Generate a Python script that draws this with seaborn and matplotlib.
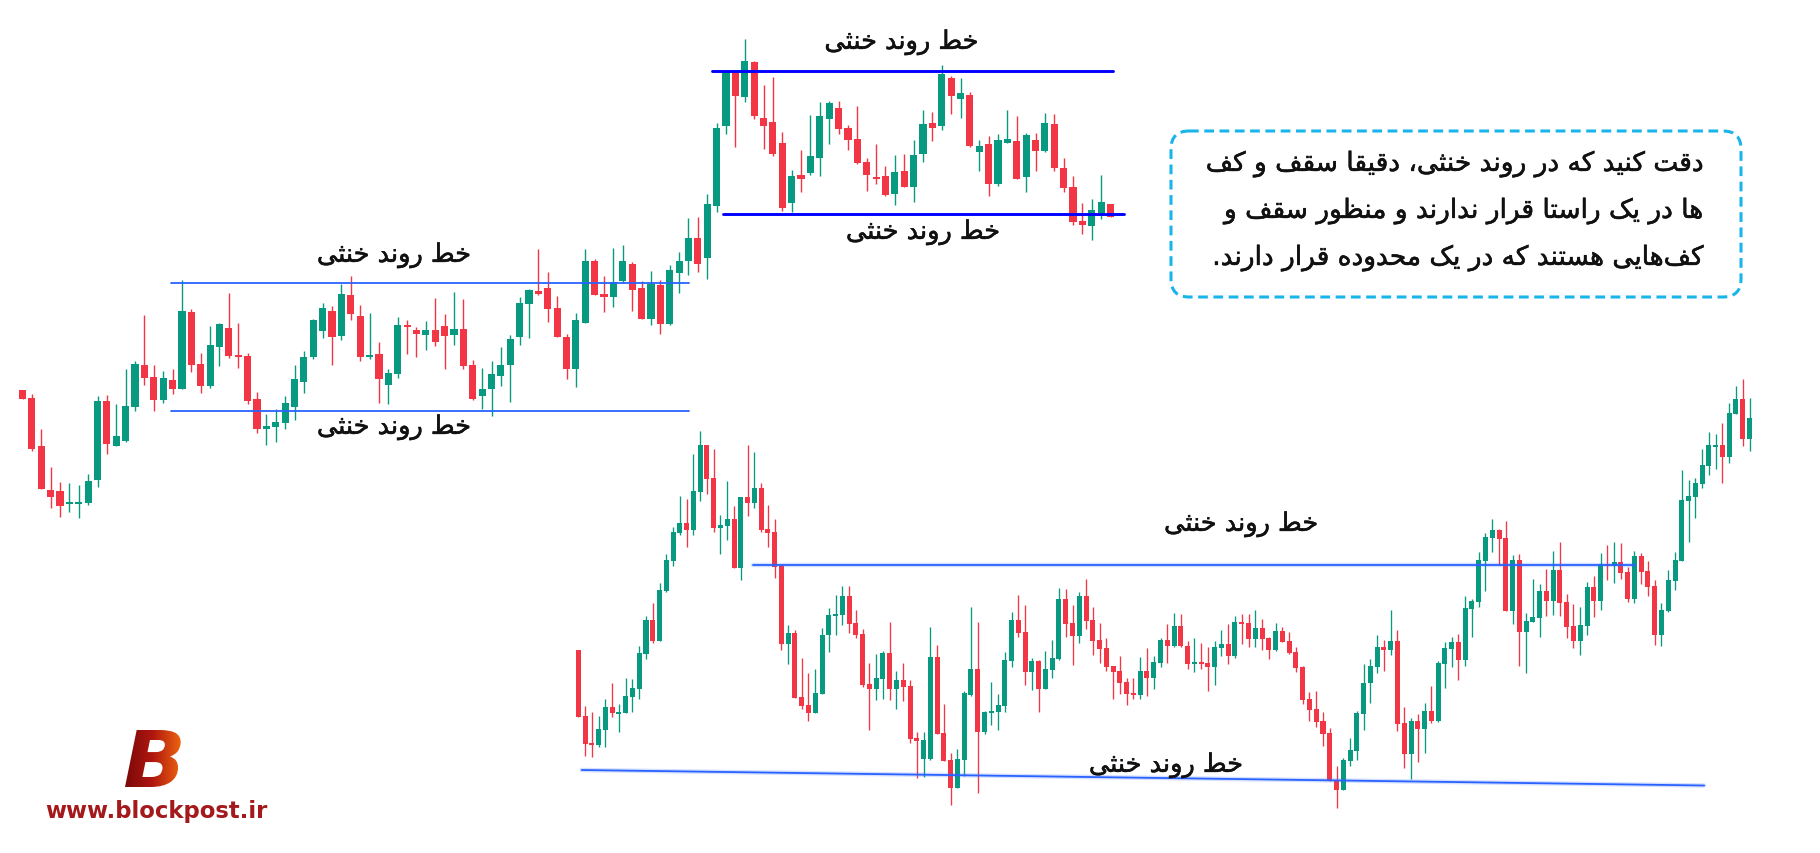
import numpy as np
import matplotlib
matplotlib.use("Agg")
import matplotlib.pyplot as plt
import matplotlib.patheffects as pe
import seaborn as sns
from matplotlib.patches import FancyBboxPatch, PathPatch
from matplotlib.textpath import TextPath
from matplotlib.font_manager import FontProperties
from matplotlib.transforms import Affine2D
from matplotlib.colors import LinearSegmentedColormap

# upper chart: left range + top range, one continuous series
up_open = [391, 399, 447, 491, 492, 504, 505, 504, 481, 402,
           447, 442, 408, 366, 378, 401, 381, 390, 313, 365,
           387, 348, 329, 356, 357, 400, 430, 428, 424, 408,
           383, 358, 332, 312, 337, 296, 317, 357, 355, 386,
           375, 326, 331, 336, 331, 327, 336, 330, 366, 397,
           390, 377, 366, 338, 305, 292, 289, 309, 338, 370,
           324, 262, 295, 298, 282, 265, 289, 320, 286, 325,
           274, 262, 239, 259, 207, 127, 73, 98, 63, 119,
           123, 144, 204, 176, 174, 159, 120, 109, 129, 140,
           163, 178, 177, 195, 172, 188, 155, 124, 127, 79,
           100, 96, 153, 145, 185, 144, 142, 178, 141, 152,
           125, 169, 188, 222, 227, 214, 205]
up_high = [391, 395, 430, 468, 483, 484, 486, 475, 397, 396,
           405, 370, 362, 316, 366, 372, 370, 281, 310, 354,
           327, 324, 294, 324, 354, 393, 415, 410, 397, 366,
           352, 320, 304, 307, 285, 277, 306, 314, 343, 370,
           318, 321, 328, 322, 299, 315, 293, 300, 361, 369,
           362, 348, 336, 298, 290, 250, 273, 297, 335, 314,
           250, 260, 277, 249, 246, 263, 282, 272, 281, 266,
           253, 219, 218, 195, 124, 73, 73, 40, 62, 86,
           78, 133, 171, 151, 116, 103, 102, 102, 126, 107,
           159, 145, 167, 156, 155, 141, 111, 113, 66, 77,
           79, 93, 141, 137, 135, 111, 117, 134, 134, 114,
           115, 159, 177, 204, 200, 176, 205]
up_low = [400, 452, 490, 509, 518, 513, 519, 506, 488, 455,
          447, 443, 412, 386, 412, 404, 395, 390, 373, 394,
          389, 367, 359, 369, 405, 434, 446, 443, 430, 421,
          394, 360, 339, 366, 341, 321, 362, 360, 404, 405,
          379, 355, 358, 351, 347, 370, 346, 370, 401, 410,
          417, 387, 403, 346, 339, 296, 323, 338, 380, 388,
          324, 296, 313, 308, 284, 312, 320, 326, 335, 326,
          294, 276, 273, 280, 213, 135, 148, 103, 120, 150,
          157, 212, 213, 193, 176, 177, 145, 135, 151, 165,
          192, 185, 197, 206, 188, 203, 163, 142, 131, 115,
          119, 148, 172, 197, 187, 144, 180, 193, 172, 153,
          172, 193, 226, 235, 241, 220, 218]
up_close = [400, 450, 490, 498, 507, 503, 503, 482, 402, 445,
            437, 407, 365, 379, 401, 379, 390, 312, 366, 387,
            346, 325, 357, 357, 402, 430, 427, 423, 404, 380,
            358, 321, 309, 338, 295, 315, 358, 356, 380, 374,
            326, 327, 335, 331, 343, 337, 330, 367, 400, 390,
            375, 366, 340, 304, 291, 295, 310, 338, 370, 321,
            262, 296, 298, 283, 262, 291, 320, 285, 325, 271,
            262, 239, 265, 205, 129, 73, 97, 62, 117, 127,
            155, 209, 177, 180, 157, 117, 104, 130, 141, 164,
            176, 179, 196, 173, 188, 156, 125, 129, 75, 97,
            94, 147, 147, 185, 141, 140, 180, 136, 152, 124,
            169, 189, 223, 226, 211, 203, 218]

# lower chart
lo_open = [651, 717, 744, 746, 731, 708, 714, 714, 698, 690,
           655, 621, 642, 592, 562, 534, 524, 531, 493, 446,
           479, 529, 527, 520, 569, 498, 504, 489, 530, 533,
           567, 645, 634, 698, 706, 714, 695, 636, 616, 616,
           597, 624, 635, 685, 690, 680, 654, 690, 681, 687,
           739, 760, 760, 658, 734, 761, 789, 761, 696, 670,
           733, 714, 713, 707, 662, 621, 633, 673, 662, 690,
           671, 660, 600, 624, 637, 597, 621, 641, 649, 667,
           672, 683, 694, 696, 672, 679, 664, 641, 647, 627,
           647, 664, 663, 664, 668, 649, 645, 657, 623, 624,
           640, 629, 639, 651, 632, 642, 653, 668, 700, 710,
           722, 734, 781, 791, 762, 752, 715, 684, 668, 648,
           651, 642, 724, 755, 722, 730, 712, 722, 665, 650,
           643, 661, 610, 603, 562, 539, 531, 539, 612, 561,
           633, 623, 619, 592, 602, 571, 603, 627, 642, 627,
           588, 602, 565, 567, 563, 573, 600, 557, 572, 587,
           636, 612, 582, 562, 502, 498, 485, 467, 447, 446,
           458, 415, 400, 440]
lo_high = [651, 707, 713, 717, 700, 684, 705, 679, 680, 647,
           617, 604, 584, 555, 528, 497, 500, 455, 432, 446,
           450, 516, 482, 507, 498, 446, 453, 484, 506, 520,
           565, 626, 631, 659, 674, 670, 629, 609, 596, 587,
           587, 611, 630, 664, 655, 652, 623, 672, 664, 681,
           733, 733, 628, 646, 705, 754, 750, 692, 608, 623,
           712, 683, 695, 653, 613, 596, 606, 659, 661, 652,
           641, 589, 590, 606, 593, 580, 608, 624, 639, 667,
           657, 679, 679, 658, 649, 657, 639, 625, 614, 615,
           642, 639, 644, 648, 642, 631, 625, 617, 615, 615,
           611, 620, 638, 624, 628, 633, 648, 667, 693, 692,
           713, 729, 767, 759, 739, 712, 665, 660, 636, 641,
           611, 631, 708, 719, 715, 704, 687, 662, 643, 638,
           635, 597, 600, 553, 534, 520, 530, 522, 556, 555,
           614, 580, 585, 570, 552, 543, 595, 605, 608, 583,
           577, 554, 546, 543, 544, 568, 552, 554, 562, 581,
           604, 571, 553, 471, 481, 479, 450, 433, 435, 424,
           404, 387, 380, 399]
lo_low = [718, 757, 758, 748, 748, 718, 733, 714, 713, 700,
          660, 644, 642, 593, 567, 536, 548, 536, 502, 495,
          533, 555, 541, 569, 581, 517, 509, 533, 548, 579,
          651, 665, 699, 710, 722, 714, 695, 653, 636, 626,
          634, 639, 688, 731, 701, 700, 701, 710, 702, 744,
          779, 778, 761, 735, 762, 806, 789, 777, 697, 794,
          735, 726, 731, 713, 668, 638, 686, 691, 713, 690,
          679, 661, 638, 666, 644, 630, 656, 664, 672, 700,
          695, 706, 700, 700, 697, 690, 668, 664, 648, 648,
          670, 673, 670, 692, 686, 657, 665, 659, 645, 648,
          648, 651, 660, 652, 643, 655, 673, 705, 722, 728,
          747, 782, 809, 791, 767, 761, 731, 704, 674, 672,
          656, 732, 769, 780, 763, 754, 724, 723, 689, 668,
          681, 667, 638, 608, 592, 553, 566, 612, 625, 667,
          674, 623, 638, 617, 616, 617, 639, 649, 656, 636,
          618, 611, 581, 584, 580, 603, 604, 585, 597, 646,
          647, 613, 591, 562, 543, 519, 489, 476, 470, 484,
          464, 415, 447, 452]
lo_close = [718, 745, 746, 730, 708, 714, 713, 697, 689, 654,
            621, 642, 591, 561, 533, 524, 531, 492, 446, 480,
            529, 526, 520, 569, 498, 504, 489, 531, 534, 568,
            645, 634, 699, 707, 714, 694, 636, 616, 615, 597,
            625, 636, 686, 690, 679, 654, 690, 681, 688, 740,
            742, 741, 658, 735, 762, 789, 760, 694, 670, 733,
            713, 712, 706, 661, 621, 634, 673, 662, 690, 670,
            659, 600, 625, 637, 597, 622, 642, 650, 668, 673,
            684, 695, 695, 672, 679, 663, 641, 647, 627, 647,
            665, 663, 665, 668, 648, 645, 657, 623, 624, 640,
            629, 640, 651, 632, 643, 654, 669, 701, 711, 723,
            735, 782, 791, 761, 751, 714, 684, 667, 648, 651,
            642, 725, 755, 722, 730, 712, 722, 664, 649, 643,
            661, 609, 602, 561, 538, 531, 540, 612, 561, 633,
            622, 618, 592, 602, 571, 604, 628, 642, 626, 588,
            602, 565, 566, 563, 574, 600, 557, 573, 588, 636,
            611, 581, 561, 501, 497, 484, 466, 446, 446, 458,
            414, 400, 440, 419]

# sideways ranges (candle index span, levels)
left_span = [15.8, 71.1]
left_levels = [283.5, 411.7]
top_span = [73.5, 117.4]
top_levels = [72, 215]
low_top_span = [25.8, 156.1]
low_top_level = 566
low_floor_span = [0.5, 166.3]
low_floor_levels = [771, 786.5]

label = "خط روند خنثی"
note_lines = ["دقت کنید که در روند خنثی، دقیقا سقف و کف",
              "ها در یک راستا قرار ندارند و منظور سقف و",
              "کف\u200cهایی هستند که در یک محدوده قرار دارند."]

# --- simple Persian shaping (matplotlib has no bidi / joining) ---
FORMS = {  # isolated, final, initial, medial
    'ا': ('\uFE8D', '\uFE8E', None, None),
    'ت': ('\uFE95', '\uFE96', '\uFE97', '\uFE98'),
    'ث': ('\uFE99', '\uFE9A', '\uFE9B', '\uFE9C'),
    'ح': ('\uFEA1', '\uFEA2', '\uFEA3', '\uFEA4'),
    'خ': ('\uFEA5', '\uFEA6', '\uFEA7', '\uFEA8'),
    'د': ('\uFEA9', '\uFEAA', None, None),
    'ر': ('\uFEAD', '\uFEAE', None, None),
    'س': ('\uFEB1', '\uFEB2', '\uFEB3', '\uFEB4'),
    'ط': ('\uFEC1', '\uFEC2', '\uFEC3', '\uFEC4'),
    'ظ': ('\uFEC5', '\uFEC6', '\uFEC7', '\uFEC8'),
    'ف': ('\uFED1', '\uFED2', '\uFED3', '\uFED4'),
    'ق': ('\uFED5', '\uFED6', '\uFED7', '\uFED8'),
    'م': ('\uFEE1', '\uFEE2', '\uFEE3', '\uFEE4'),
    'ن': ('\uFEE5', '\uFEE6', '\uFEE7', '\uFEE8'),
    'ه': ('\uFEE9', '\uFEEA', '\uFEEB', '\uFEEC'),
    'و': ('\uFEED', '\uFEEE', None, None),
    'ی': ('\uFBFC', '\uFBFD', '\uFBFE', '\uFBFF'),
    'ک': ('\uFB8E', '\uFB8F', '\uFB90', '\uFB91'),
}


def shape(s):
    out = []
    for i, ch in enumerate(s):
        f = FORMS.get(ch)
        if f is None:
            out.append(ch)
            continue
        prev = s[i - 1] if i > 0 else ''
        nxt = s[i + 1] if i + 1 < len(s) else ''
        jp = prev in FORMS and FORMS[prev][2] is not None
        jn = f[2] is not None and nxt in FORMS
        if jp and jn:
            out.append(f[3])
        elif jp:
            out.append(f[1])
        elif jn:
            out.append(f[2])
        else:
            out.append(f[0])
    return ''.join(out).replace('\u200c', '')[::-1]


sns.set_theme(style="white")
plt.rcParams['font.family'] = ['DejaVu Sans']
plt.rcParams['lines.scale_dashes'] = False

W, H = 1820, 854
GREEN = '#089981'
RED = '#f23645'
TXT = '#111111'
THICK = [pe.withStroke(linewidth=0.4, foreground=TXT)]

fig = plt.figure(figsize=(W / 100, H / 100), dpi=100)
fig.patch.set_facecolor('white')


def series_axes(x0, step):
    ax = fig.add_axes([0, 0, 1, 1])
    ax.set_xlim(-x0 / step, (W - x0) / step)
    ax.set_ylim(H, 0)
    ax.axis('off')
    ax.patch.set_alpha(0)
    return ax


def draw_candles(ax, o, h, l, c, width, wick_lw):
    o, h, l, c = map(np.asarray, (o, h, l, c))
    x = np.arange(len(o))
    col = np.where(c < o, GREEN, RED)
    ax.vlines(x, h, l, colors=col, lw=wick_lw, zorder=2)
    body = np.maximum(np.abs(c - o), 1.6)
    ax.bar(x, body, width, bottom=np.minimum(o, c), color=col, linewidth=0, zorder=3)


def put_label(ax, x, y):
    ax.text(x, y, shape(label), ha='center', va='center', fontsize=18.4,
            color=TXT, path_effects=THICK, zorder=6)


ax_up = series_axes(22.5, 9.38)
draw_candles(ax_up, up_open, up_high, up_low, up_close, 0.76, 1.0)
ax_lo = series_axes(578.3, 6.77)
draw_candles(ax_lo, lo_open, lo_high, lo_low, lo_close, 0.74, 0.95)

# left range
for lev in left_levels:
    ax_up.plot(left_span, [lev, lev], color='#2962ff', lw=1.3, zorder=5)
put_label(ax_up, 39.6, 256)
put_label(ax_up, 39.6, 428)

# top range
ax_up.plot([top_span[0], 116.3], [top_levels[0]] * 2, color='#0000ff', lw=2.1, zorder=5)
ax_up.plot([74.7, top_span[1]], [top_levels[1]] * 2, color='#0000ff', lw=2.1, zorder=5)
put_label(ax_up, 93.7, 43)
put_label(ax_up, 96.0, 233)

# lower range
ax_lo.plot(low_top_span, [low_top_level] * 2, color='#2962ff', lw=3.2, alpha=0.2, zorder=4)
ax_lo.plot(low_top_span, [low_top_level] * 2, color='#2962ff', lw=1.3, zorder=5)
ax_lo.plot(low_floor_span, low_floor_levels, color='#2962ff', lw=3.2, alpha=0.2, zorder=4)
ax_lo.plot(low_floor_span, low_floor_levels, color='#2962ff', lw=1.3, zorder=5)
put_label(ax_lo, 97.9, 525)
put_label(ax_lo, 86.8, 766)

# overlay in pixel units: note box and logo
ax = fig.add_axes([0, 0, 1, 1])
ax.set_xlim(0, W)
ax.set_ylim(H, 0)
ax.axis('off')
ax.patch.set_alpha(0)

box = FancyBboxPatch((1171, 132), 570, 166, boxstyle="round,pad=0,rounding_size=18",
                     fill=False, ec='#19b5ea', lw=2.2, linestyle=(0, (7, 4)))
ax.add_patch(box)
for k, line in enumerate(note_lines):
    ax.text(1704, 165 + 47 * k, shape(line), ha='right', va='center', fontsize=19,
            color=TXT, path_effects=THICK)

# logo "B" with gradient
fp = FontProperties(family='DejaVu Sans', weight='bold', style='italic')
tp = TextPath((0, 0), 'B', size=100, prop=fp)
bb = tp.get_extents()
s = 57 / bb.height
tr = Affine2D().translate(-bb.x0, -bb.y1).scale(s * 1.05, -s).translate(125, 731)
bpath = tr.transform_path(tp)
patch = PathPatch(bpath, fc='none', ec='none')
ax.add_patch(patch)
cmap = LinearSegmentedColormap.from_list('logo', ['#7a0909', '#b0170f', '#ec6410'])
grad = np.linspace(0, 1, 256).reshape(1, -1)
im = ax.imshow(grad, cmap=cmap, extent=(125, 125 + bb.width * s * 1.05, 731 + 57, 731),
               aspect='auto', zorder=6)
im.set_clip_path(patch)
ax.set_xlim(0, W)
ax.set_ylim(H, 0)
ax.text(156, 812, 'www.blockpost.ir', ha='center', va='center', fontsize=16.4,
        fontweight='bold', color='#a3191c')

fig.savefig('out.png', dpi=100, facecolor='white')
